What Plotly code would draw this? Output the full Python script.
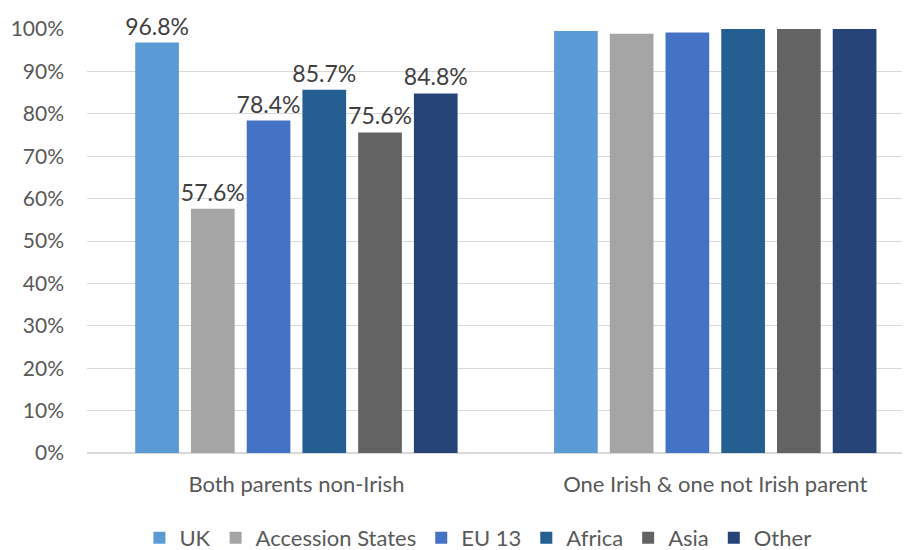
import plotly.graph_objects as go

categories = ["Both parents non-Irish", "One Irish & one not Irish parent"]
series_names = ["UK", "Accession States", "EU 13", "Africa", "Asia", "Other"]
uk = [96.8, 99.5]
accession = [57.6, 98.9]
eu13 = [78.4, 99.2]
africa = [85.7, 100.0]
asia = [75.6, 100.0]
other = [84.8, 100.0]
label_first_only = [True, False]
tick_vals = [0, 10, 20, 30, 40, 50, 60, 70, 80, 90, 100]
tick_text = ["0%", "10%", "20%", "30%", "40%", "50%", "60%", "70%", "80%", "90%", "100%"]

colors = ["#5B9BD5", "#A5A5A5", "#4472C4", "#255E91", "#636363", "#264478"]
all_values = [uk, accession, eu13, africa, asia, other]

FONT = "Lato, 'Open Sans', sans-serif"

fig = go.Figure()
for name, vals, col in zip(series_names, all_values, colors):
    texts = [f"{v:.1f}%" if show else "" for v, show in zip(vals, label_first_only)]
    fig.add_trace(go.Bar(
        name=name, x=categories, y=vals, marker=dict(color=col, line=dict(width=0)),
        text=texts, textposition="outside", cliponaxis=False, constraintext="none",
        textfont=dict(size=23, color="#404040", family=FONT),
    ))

fig.update_layout(
    barmode="group", bargap=0.2015, bargroupgap=0.216,
    width=902, height=542,
    margin=dict(l=79, r=0, t=21, b=97, autoexpand=False),
    plot_bgcolor="white", paper_bgcolor="white",
    font=dict(family=FONT, color="#595959", size=20),
    legend=dict(orientation="h", x=0.475, xanchor="center", y=-0.151, yanchor="top",
                font=dict(size=22, color="#595959"), itemwidth=30,
                traceorder="normal"),
    yaxis=dict(range=[0, 100], tickvals=tick_vals, ticktext=tick_text, automargin=False,
               showgrid=True, gridcolor="#D9D9D9", gridwidth=1, zeroline=True,
               zerolinecolor="#D9D9D9", ticks="", tickfont=dict(size=21, color="#595959"),
               ticklabelstandoff=22),
    xaxis=dict(showline=True, linecolor="#D9D9D9", ticks="", automargin=False,
               range=[-0.5, 1.465],
               tickfont=dict(size=22, color="#595959"), ticklabelstandoff=12),
)

fig.write_html("out.html")
